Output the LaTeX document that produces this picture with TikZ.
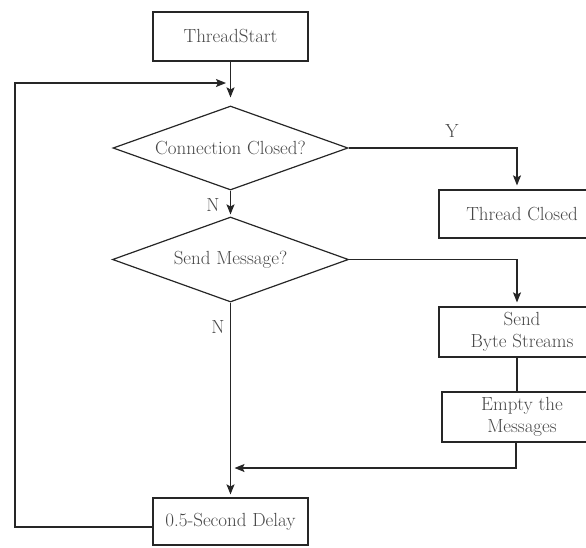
\documentclass[tikz,border=0pt]{standalone}
\usepackage{fontspec}
\setmainfont{Latin Modern Roman}
\usetikzlibrary{shapes.geometric,arrows.meta}
\newcommand{\chartfont}{\fontsize{19}{22}\selectfont}
\begin{document}
\begin{tikzpicture}[x=1pt,y=-1pt,
  line width=1.2pt, draw=black!85,
  font=\chartfont,
  every node/.append style={text=black!72},
  procbox/.style={draw=black!85, line width=1.2pt, rectangle, inner sep=0pt, align=center},
  decision/.style={draw=black!85, line width=1.2pt, diamond, inner sep=0pt, shape aspect=2.8},
  flow/.style={-{Stealth[length=10pt,width=8pt,inset=2pt]}},
  lbl/.style={inner sep=0pt}]
\useasboundingbox (0,0) rectangle (586,547);
\clip (0,0) rectangle (586,547);

% process boxes and decisions
\node[procbox, minimum width=155, minimum height=49] (start) at (230.5,36.5) {ThreadStart};
\node[decision, minimum width=235, minimum height=84] (c1) at (230.5,148) {Connection Closed?};
\node[decision, minimum width=236, minimum height=85] (c2) at (230.5,259.5) {Send Message?};
\node[procbox, minimum width=166, minimum height=48] (closed) at (522,214) {Thread Closed};
\node[procbox, minimum width=166, minimum height=50] (send) at (522,332) {Send\\Byte Streams};
\node[procbox, minimum width=160, minimum height=50] (empty) at (522,417) {Empty the\\Messages};
\node[procbox, minimum width=155, minimum height=47] (delay) at (230.5,521.5) {0.5-Second Delay};

% junction points
\coordinate (merge) at (226,83);
\coordinate (join) at (230.5,468);

% main flow
\draw[flow, shorten >=8pt] (start.south) -- (c1.north);
\draw[flow, shorten >=2pt] (c1.south) -- (c2.north);
\node[lbl] (n1) at (213,205) {N};
\draw[flow, shorten >=3pt] (c2.south) -- (delay.north);
\node[lbl] (n2) at (218,327) {N};

% yes branch
\draw[flow, shorten >=4pt] (c1.east) -| ([xshift=-5pt]closed.north);
\node[lbl] (y1) at (452,131) {Y};

% send branch
\draw[flow, shorten >=4pt] (c2.east) -| ([xshift=-5pt]send.north);
\draw ([xshift=-5pt]send.south) -- ([xshift=-5pt]empty.north);
\draw[flow, shorten >=4pt] ([xshift=-6pt]empty.south) |- (join);

% loop back to the top
\draw[flow] ([yshift=-5.5pt]delay.west) -| (15,83) -- (merge);
\end{tikzpicture}
\end{document}
